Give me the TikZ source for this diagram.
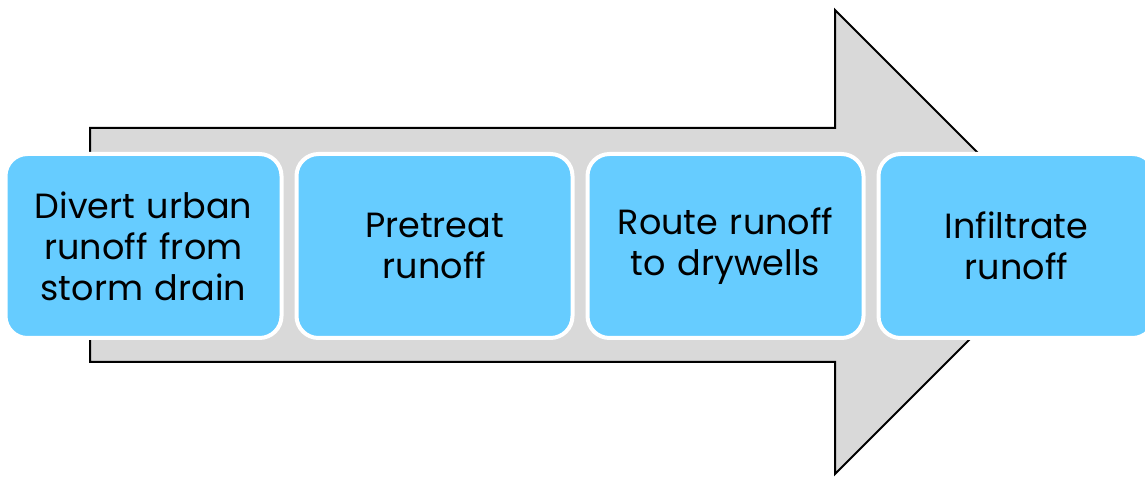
\documentclass[tikz,border=0pt]{standalone}
\usepackage{fontspec}
\setmainfont{Poppins}
\usetikzlibrary{positioning}

\definecolor{stepblue}{HTML}{66CCFF}
\definecolor{arrowgray}{HTML}{D9D9D9}

\tikzset{
    stepbox/.style={rectangle, rounded corners=22pt, fill=stepblue, draw=white, line width=4pt,
        minimum width=276pt, minimum height=184pt, align=center, text width=260pt,
        font=\fontsize{35}{41}\selectfont}
}

\begin{document}
\begin{tikzpicture}[x=1pt, y=1pt]
        \useasboundingbox (0,0) rectangle (1145,479);

        % Big process arrow in the background
        \draw[line width=2pt, fill=arrowgray, line join=miter]
            (90,351) -- (835,351) -- (835,469) -- (1067,237) -- (835,5) -- (835,117) -- (90,117) -- cycle;

        % Process steps
        \node[stepbox] (divert) at (143.5,233) {Divert urban\\runoff from\\storm drain};
        \node[stepbox, right=11pt of divert] (pretreat) {Pretreat\\runoff};
        \node[stepbox, right=11pt of pretreat] (route) {Route runoff\\to drywells};
        \node[stepbox, right=11pt of route] (infiltrate) {Infiltrate\\runoff};
\end{tikzpicture}
\end{document}
